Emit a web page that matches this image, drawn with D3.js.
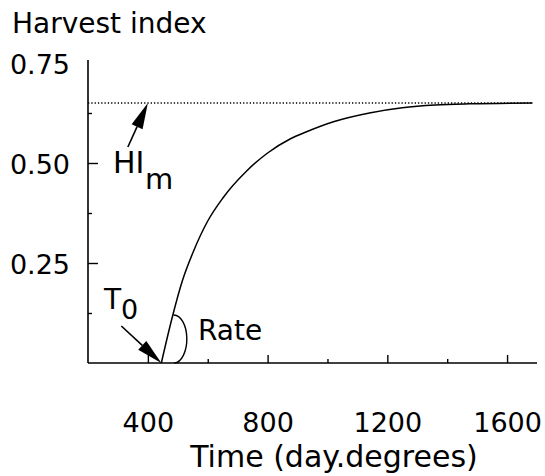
<!DOCTYPE html>
<html>
<head>
<meta charset="utf-8">
<script src="https://cdn.jsdelivr.net/npm/d3@7"></script>
<style>
  body { margin: 0; background: #fff; }
  text { font-family: "DejaVu Sans", sans-serif; fill: #000; }
</style>
</head>
<body>
<svg id="chart" width="545" height="476"></svg>
<script>
// Données
const timeValues = [445, 480, 515, 550, 600, 650, 730, 800, 875, 930, 1020, 1140, 1250, 1360, 1475, 1685];
const hiValues = [0, 0.11, 0.205, 0.275, 0.355, 0.412, 0.48, 0.525, 0.56, 0.578, 0.603, 0.625, 0.638, 0.645, 0.648, 0.65];
const hiMax = 0.65;
const t0 = 445;
const xMajorTicks = [400, 800, 1200, 1600];
const xMinorTicks = [600, 1000, 1400];
const yLabelTicks = [0.25, 0.5, 0.75];
const yMajorTicks = [0.25, 0.5];
const yMinorTicks = [0.125, 0.375, 0.625];

const svg = d3.select("#chart");

const x = d3.scaleLinear().domain([200, 1700]).range([88, 537]);
const y = d3.scaleLinear().domain([0, 0.75]).range([363, 63]);

// --- Axes ---
svg.append("line")
    .attr("x1", x(200)).attr("y1", y(0))
    .attr("x2", x(200)).attr("y2", 60)
    .attr("stroke", "black").attr("stroke-width", 1.6);
svg.append("line")
    .attr("x1", x(200)).attr("y1", y(0))
    .attr("x2", x(1700)).attr("y2", y(0))
    .attr("stroke", "black").attr("stroke-width", 1.6);

function styleAxis(g) {
    g.select(".domain").remove();
    g.selectAll("line").attr("stroke", "black").attr("stroke-width", 1.4);
    g.selectAll("text")
        .attr("font-family", "DejaVu Sans, sans-serif")
        .attr("font-size", 27)
        .attr("fill", "black");
}

// Graduations X
svg.append("g")
    .attr("transform", `translate(0,${y(0)})`)
    .call(d3.axisBottom(x).tickValues(xMajorTicks).tickSize(-8).tickPadding(50).tickFormat(d3.format("d")))
    .call(styleAxis);
svg.append("g")
    .attr("transform", `translate(0,${y(0)})`)
    .call(d3.axisBottom(x).tickValues(xMinorTicks).tickSize(-4).tickFormat(""))
    .call(styleAxis);

// Graduations Y
svg.append("g")
    .attr("transform", `translate(${x(200)},0)`)
    .call(d3.axisLeft(y).tickValues(yLabelTicks).tickSize(0).tickPadding(18).tickFormat(d3.format(".2f")))
    .call(styleAxis)
    .selectAll("text").attr("dy", "0.38em");
svg.append("g")
    .attr("transform", `translate(${x(200)},0)`)
    .call(d3.axisLeft(y).tickValues(yMajorTicks).tickSize(-10).tickFormat(""))
    .call(styleAxis);
svg.append("g")
    .attr("transform", `translate(${x(200)},0)`)
    .call(d3.axisLeft(y).tickValues(yMinorTicks).tickSize(-4).tickFormat(""))
    .call(styleAxis);

// Titres
svg.append("text")
    .attr("x", 12).attr("y", 33)
    .attr("font-size", 28)
    .text("Harvest index");
svg.append("text")
    .attr("x", 334).attr("y", 467)
    .attr("text-anchor", "middle")
    .attr("font-size", 30)
    .text("Time (day.degrees)");

// --- Ligne pointillée HIm ---
svg.append("line")
    .attr("x1", x(200)).attr("y1", y(hiMax))
    .attr("x2", x(d3.max(timeValues))).attr("y2", y(hiMax))
    .attr("stroke", "black")
    .attr("stroke-width", 1.3)
    .attr("stroke-dasharray", "1.3 2");

// --- Courbe ---
const points = timeValues.map((t, i) => [x(t), y(hiValues[i])]);
svg.append("path")
    .attr("d", d3.line().curve(d3.curveMonotoneX)(points))
    .attr("fill", "none")
    .attr("stroke", "black")
    .attr("stroke-width", 1.5);

// --- Flèches ---
function drawArrow(x1, y1, x2, y2) {
    const ang = Math.atan2(y2 - y1, x2 - x1);
    const len = 26, half = 6;
    const bx = x2 - len * Math.cos(ang), by = y2 - len * Math.sin(ang);
    const nx = -Math.sin(ang) * half, ny = Math.cos(ang) * half;
    svg.append("line")
        .attr("x1", x1).attr("y1", y1).attr("x2", bx).attr("y2", by)
        .attr("stroke", "black").attr("stroke-width", 1.6);
    svg.append("path")
        .attr("d", d3.line()([[x2, y2], [bx + nx, by + ny], [bx - nx, by - ny]]) + "Z")
        .attr("fill", "black");
}

// HIm
const hx = x(400), hy = y(hiMax);
drawArrow(hx - 20, hy + 44, hx, hy);
svg.append("text")
    .attr("x", 113).attr("y", 173)
    .attr("font-size", 30)
    .text("HI");
svg.append("text")
    .attr("x", 145).attr("y", 189)
    .attr("font-size", 29)
    .text("m");

// T0
const tx = x(t0), ty = y(0);
drawArrow(tx - 40, ty - 37, tx, ty);
svg.append("text")
    .attr("x", 104).attr("y", 309)
    .attr("font-size", 28)
    .text("T");
svg.append("text")
    .attr("x", 121).attr("y", 319)
    .attr("font-size", 27)
    .text("0");

// Rate
svg.append("path")
    .attr("d", `M${tx + 12},${ty - 48} A13,24 0 0 1 ${tx + 13},${ty}`)
    .attr("fill", "none")
    .attr("stroke", "black")
    .attr("stroke-width", 1.4);
svg.append("text")
    .attr("x", 198).attr("y", 340)
    .attr("font-size", 28)
    .text("Rate");
</script>
</body>
</html>
